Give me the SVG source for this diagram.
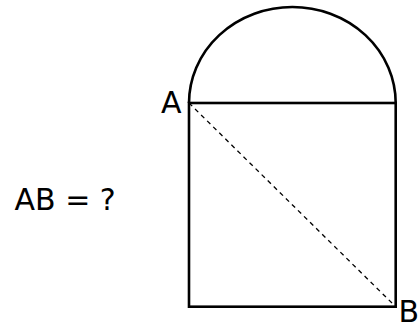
<svg xmlns="http://www.w3.org/2000/svg" width="418" height="323" viewBox="0 0 418 323">
<style>
.s{fill:none;stroke:#000;stroke-width:2.6}
.d{fill:none;stroke:#000;stroke-width:1.3;stroke-dasharray:4.5,4}
.t{font-family:"DejaVu Sans",sans-serif;font-size:30px;fill:#000}
</style>
<rect width="418" height="323" fill="#fff"/>
<g id="shape">
<path class="s" d="M189,103 A103.35,96 0 0 1 395.7,103"/>
<rect class="s" x="189" y="103" width="206.7" height="203.7"/>
</g>
<g id="connectors">
<line class="d" x1="189" y1="103" x2="395.7" y2="306.7"/>
</g>
<g id="labelA"><text class="t" x="161" y="113">A</text></g>
<g id="labelB"><text class="t" x="398.5" y="321.5">B</text></g>
<g id="question"><text class="t" x="14.5" y="210">AB = ?</text></g>
</svg>
